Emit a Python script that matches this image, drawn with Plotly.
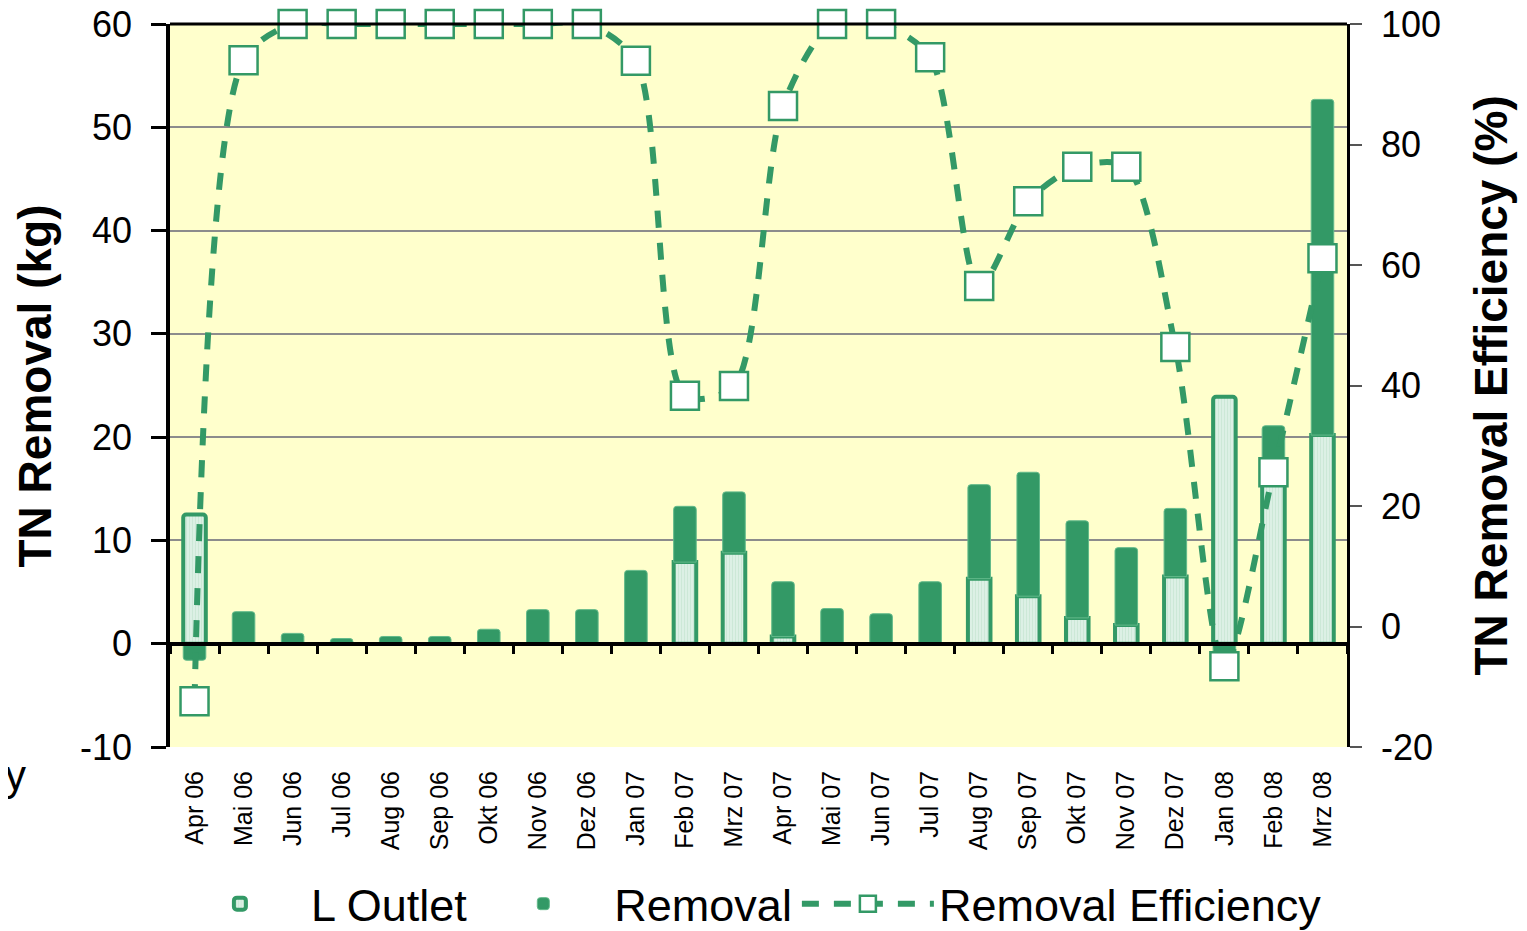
import plotly.graph_objects as go

months = ["Apr 06", "Mai 06", "Jun 06", "Jul 06", "Aug 06", "Sep 06", "Okt 06", "Nov 06",
          "Dez 06", "Jan 07", "Feb 07", "Mrz 07", "Apr 07", "Mai 07", "Jun 07", "Jul 07",
          "Aug 07", "Sep 07", "Okt 07", "Nov 07", "Dez 07", "Jan 08", "Feb 08", "Mrz 08"]
l_outlet = [12.5, None, None, None, None, None, None, None, None, None, 7.9, 8.8,
            0.7, None, None, None, 6.3, 4.6, 2.5, 1.8, 6.5, 23.9, 15.6, 20.2]
removal = [-1.6, 3.1, 1.0, 0.5, 0.7, 0.7, 1.4, 3.3, 3.3, 7.1, 5.4, 5.9,
           5.3, 3.4, 2.9, 6.0, 9.1, 12.0, 9.4, 7.5, 6.6, -1.2, 5.5, 32.5]
efficiency = [-12.4, 94.0, 100, 100, 100, 100, 100, 100, 100, 93.9, 38.3, 39.9,
              86.4, 100, 100, 94.5, 56.5, 70.6, 76.3, 76.3, 46.4, -6.6, 25.6, 61.1]
left_ticks = [-10, 0, 10, 20, 30, 40, 50, 60]
grid_ticks = [10, 20, 30, 40, 50]
right_ticks = [-20, 0, 20, 40, 60, 80, 100]

GREEN = "#339966"
FONT = "Liberation Sans, Arial, sans-serif"

fig = go.Figure()
fig.add_trace(go.Bar(
    x=months, y=l_outlet, name="L Outlet", width=0.46,
    marker=dict(color="#d8eee2", line=dict(color=GREEN, width=4),
                pattern=dict(shape="|", fgcolor="#bcdfca", bgcolor="#dcf0e5",
                             size=3, solidity=0.35)),
    xaxis="x", yaxis="y"))
fig.add_trace(go.Bar(
    x=months, y=removal, name="Removal", width=0.46,
    marker=dict(color=GREEN, line=dict(color="#62ba8a", width=1)),
    xaxis="x", yaxis="y"))
fig.add_trace(go.Scatter(
    x=months, y=efficiency, name="Removal Efficiency", mode="lines+markers",
    line=dict(color=GREEN, width=6, dash="17px,15px", shape="spline", smoothing=0.8),
    marker=dict(symbol="square", size=28, color="white", line=dict(color=GREEN, width=2.5)),
    cliponaxis=False, xaxis="x", yaxis="y2"))
# invisible helper trace for the zero-line tick axis and grid axis
fig.add_trace(go.Scatter(x=months, y=[None] * len(months), showlegend=False,
                         hoverinfo="skip", xaxis="x3", yaxis="y3"))

fig.update_layout(
    width=1519, height=923,
    margin=dict(l=162, r=180, t=16, b=184, autoexpand=False),
    paper_bgcolor="white", plot_bgcolor="#ffffcc",
    barmode="relative", barcornerradius=3,
    font=dict(family=FONT, color="black"),
    showlegend=True,
    legend=dict(orientation="h", x=0.491, xanchor="center", y=-0.217, yanchor="middle",
                font=dict(size=45, family=FONT), itemwidth=132, traceorder="normal",
                bgcolor="rgba(0,0,0,0)"),
    xaxis=dict(type="category", range=[-0.5, 23.5], showline=False, ticks="",
               tickangle=-90, tickfont=dict(size=25), ticklabelstandoff=18,
               showgrid=False, zeroline=False, automargin=False),
    xaxis3=dict(type="category", overlaying="x", anchor="free", position=10 / 70,
                range=[-0.5, 23.5], showline=True, linecolor="black", linewidth=3.5,
                ticks="outside", tickson="boundaries", ticklen=9, tickwidth=3,
                tickcolor="black", showticklabels=False, showgrid=False, zeroline=False,
                automargin=False),
    yaxis=dict(range=[-10, 60], tickvals=left_ticks,
               ticktext=[str(v) for v in left_ticks], showgrid=False, zeroline=False,
               showline=True, linecolor="black", linewidth=3.5, ticks="outside",
               ticklen=15, tickwidth=2.5, tickcolor="black", tickfont=dict(size=36),
               ticklabelstandoff=12, automargin=False, ticklabeloverflow="allow"),
    yaxis3=dict(range=[-10, 60], overlaying="y", tickvals=grid_ticks, showgrid=True,
                gridcolor="#8c8c8c", gridwidth=2, showticklabels=False, ticks="",
                zeroline=False, showline=False, automargin=False),
    yaxis2=dict(range=[-20, 100], tickvals=right_ticks,
                ticktext=[str(v) for v in right_ticks], overlaying="y", side="right",
                showgrid=False, zeroline=False, showline=True, linecolor="black",
                linewidth=2.5, ticks="outside", ticklen=12, tickwidth=1.5,
                tickcolor="#555555", tickfont=dict(size=36), ticklabelstandoff=12,
                automargin=False, ticklabeloverflow="allow"),
    shapes=[dict(type="line", xref="paper", yref="paper", x0=0, x1=1, y0=1, y1=1,
                 line=dict(color="black", width=3))],
    annotations=[
        dict(text="<b>TN Removal (kg)</b>", xref="paper", yref="paper",
             x=-0.1147, y=0.5, textangle=-90, showarrow=False,
             xanchor="center", yanchor="middle", font=dict(size=46, family=FONT)),
        dict(text="<b>TN Removal Efficiency (%)</b>", xref="paper", yref="paper",
             x=1.1215, y=0.5, textangle=-90, showarrow=False,
             xanchor="center", yanchor="middle", font=dict(size=46, family=FONT)),
        dict(text="cy", xref="paper", yref="paper", x=-0.1206, y=-0.04,
             showarrow=False, xanchor="right", yanchor="middle",
             font=dict(size=42, family=FONT)),
    ],
)

fig.write_html("out.html")
